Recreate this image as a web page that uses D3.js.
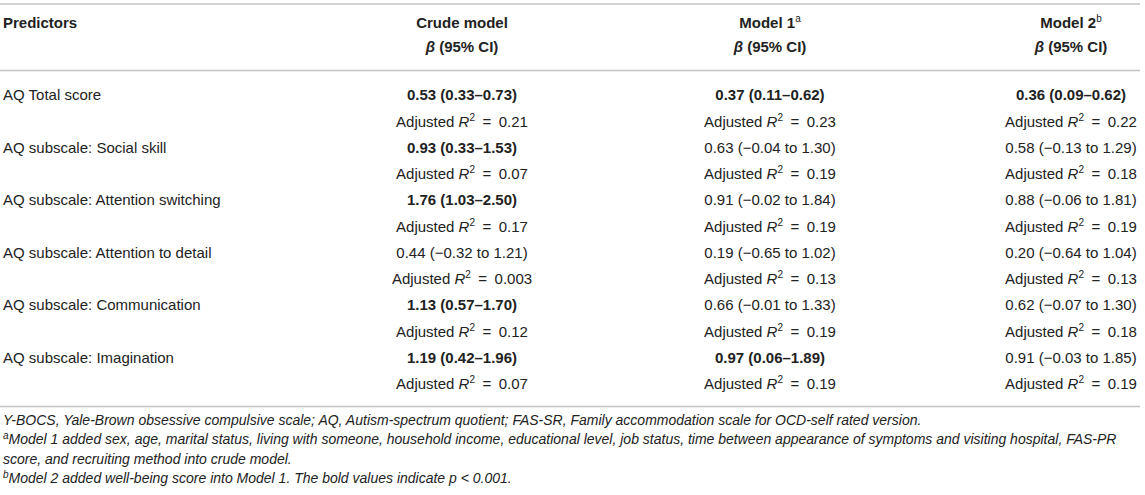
<!DOCTYPE html>
<html>
<head>
<meta charset="utf-8">
<script src="https://cdn.jsdelivr.net/npm/d3@7"></script>
<style>
  body { margin: 0; background: #fff; }
  text { font-family: "Liberation Sans", Arial, Helvetica, sans-serif; fill: #222; }
</style>
</head>
<body>
<div id="table"></div>
<script>
// Table content
var predictors = [
  "AQ Total score",
  "AQ subscale: Social skill",
  "AQ subscale: Attention switching",
  "AQ subscale: Attention to detail",
  "AQ subscale: Communication",
  "AQ subscale: Imagination"
];
var models = ["Crude model", "Model 1", "Model 2"];
var modelNotes = ["", "a", "b"];

// beta, lower CI, upper CI
var crudeBeta = [[0.53, 0.33, 0.73], [0.93, 0.33, 1.53], [1.76, 1.03, 2.50], [0.44, -0.32, 1.21], [1.13, 0.57, 1.70], [1.19, 0.42, 1.96]];
var model1Beta = [[0.37, 0.11, 0.62], [0.63, -0.04, 1.30], [0.91, -0.02, 1.84], [0.19, -0.65, 1.02], [0.66, -0.01, 1.33], [0.97, 0.06, 1.89]];
var model2Beta = [[0.36, 0.09, 0.62], [0.58, -0.13, 1.29], [0.88, -0.06, 1.81], [0.20, -0.64, 1.04], [0.62, -0.07, 1.30], [0.91, -0.03, 1.85]];

// p < 0.001 (bold)
var crudeBold = [true, true, true, false, true, true];
var model1Bold = [true, false, false, false, false, true];
var model2Bold = [true, false, false, false, false, false];

// adjusted R squared
var crudeR2 = ["0.21", "0.07", "0.17", "0.003", "0.12", "0.07"];
var model1R2 = ["0.23", "0.19", "0.19", "0.13", "0.19", "0.19"];
var model2R2 = ["0.22", "0.18", "0.19", "0.13", "0.18", "0.19"];

var footnotes = [
  {sup: "", text: "Y-BOCS, Yale-Brown obsessive compulsive scale; AQ, Autism-spectrum quotient; FAS-SR, Family accommodation scale for OCD-self rated version."},
  {sup: "a", text: "Model 1 added sex, age, marital status, living with someone, household income, educational level, job status, time between appearance of symptoms and visiting hospital, FAS-PR"},
  {sup: "", text: "score, and recruiting method into crude model."},
  {sup: "b", text: "Model 2 added well-being score into Model 1. The bold values indicate p < 0.001."}
];

var svgWidth = 1145;
var svgHeight = 495;
var fs = 15;      // body font size
var noteFs = 14;  // footnote font size

var svg = d3.select("#table")
  .append("svg")
  .attr("width", svgWidth)
  .attr("height", svgHeight);

var fmt = d3.format(".2f");
function ciText(d) {
  if (d[1] < 0) return fmt(d[0]) + " (" + fmt(d[1]) + " to " + fmt(d[2]) + ")";
  return fmt(d[0]) + " (" + fmt(d[1]) + "\u2013" + fmt(d[2]) + ")";
}

// scales for columns and rows
var xCol = d3.scaleOrdinal().domain(models).range([462, 770, 1071]);
var yRow = d3.scaleLinear().domain([0, 11]).range([95, 384]);
var yNote = d3.scaleLinear().domain([0, 3]).range([425, 483]);

// rules
var rules = [4, 70.5, 406.5];
svg.selectAll("line.rule")
  .data(rules)
  .enter()
  .append("line")
  .attr("x1", 0)
  .attr("x2", 1140)
  .attr("y1", d => d)
  .attr("y2", d => d)
  .attr("stroke", "#c4c4c4")
  .attr("stroke-width", 1.6);

// header
svg.append("text")
  .attr("x", 3)
  .attr("y", 23)
  .attr("dy", "0.35em")
  .style("font-size", fs + "px")
  .style("font-weight", "bold")
  .text("Predictors");

var head = svg.selectAll("g.head")
  .data(models)
  .enter()
  .append("g")
  .attr("transform", d => `translate(${xCol(d)},0)`);

var headTitle = head.append("text")
  .attr("y", 23)
  .attr("dy", "0.35em")
  .attr("text-anchor", "middle")
  .style("font-size", fs + "px")
  .style("font-weight", "bold");
headTitle.append("tspan").text(d => d);
headTitle.append("tspan")
  .attr("dy", -6)
  .style("font-size", "10px")
  .style("font-weight", "normal")
  .text((d, i) => modelNotes[i]);

var headSub = head.append("text")
  .attr("y", 47)
  .attr("dy", "0.35em")
  .attr("text-anchor", "middle")
  .style("font-size", fs + "px")
  .style("font-weight", "bold");
headSub.append("tspan").style("font-style", "italic").text("\u03b2");
headSub.append("tspan").text(" (95% CI)");

// predictor labels
svg.selectAll("text.pred")
  .data(predictors)
  .enter()
  .append("text")
  .attr("class", "pred")
  .attr("x", 3)
  .attr("y", (d, i) => yRow(i * 2))
  .attr("dy", "0.35em")
  .style("font-size", fs + "px")
  .text(d => d);

// body cells
var cols = [
  {model: models[0], beta: crudeBeta, bold: crudeBold, r2: crudeR2},
  {model: models[1], beta: model1Beta, bold: model1Bold, r2: model1R2},
  {model: models[2], beta: model2Beta, bold: model2Bold, r2: model2R2}
];

cols.forEach(function(c) {
  svg.selectAll(null)
    .data(c.beta)
    .enter()
    .append("text")
    .attr("x", xCol(c.model))
    .attr("y", (d, i) => yRow(i * 2))
    .attr("dy", "0.35em")
    .attr("text-anchor", "middle")
    .style("font-size", fs + "px")
    .style("font-weight", (d, i) => c.bold[i] ? "bold" : "normal")
    .text(d => ciText(d));

  var r2 = svg.selectAll(null)
    .data(c.r2)
    .enter()
    .append("text")
    .attr("x", xCol(c.model))
    .attr("y", (d, i) => yRow(i * 2 + 1))
    .attr("dy", "0.35em")
    .attr("text-anchor", "middle")
    .style("font-size", fs + "px");
  r2.append("tspan").text("Adjusted ");
  r2.append("tspan").style("font-style", "italic").text("R");
  r2.append("tspan").attr("dy", -6).style("font-size", "10px").text("2");
  r2.append("tspan").attr("dy", 6).text(d => "\u2002=\u2002" + d);
});

// footnotes
var notes = svg.selectAll("text.note")
  .data(footnotes)
  .enter()
  .append("text")
  .attr("class", "note")
  .attr("x", 3)
  .attr("y", (d, i) => yNote(i))
  .attr("dy", "0.35em")
  .style("font-size", noteFs + "px")
  .style("font-style", "italic");
notes.filter(d => d.sup)
  .append("tspan")
  .attr("dy", -5)
  .style("font-size", "10px")
  .text(d => d.sup);
notes.append("tspan")
  .attr("dy", d => d.sup ? 5 : 0)
  .text(d => d.text);
</script>
</body>
</html>
